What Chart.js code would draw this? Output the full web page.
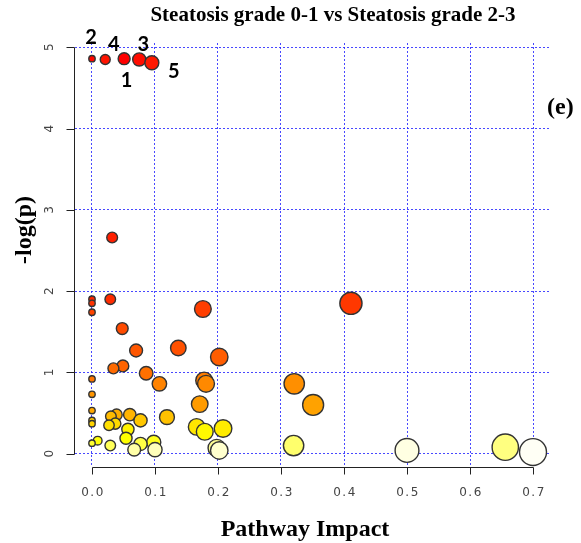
<!DOCTYPE html>
<html><head><meta charset="utf-8">
<script src="https://cdn.jsdelivr.net/npm/chart.js@4.4.0/dist/chart.umd.min.js"></script>
<style>html,body{margin:0;padding:0;background:#fff;}#wrap{width:581px;height:543px;position:relative;}</style>
</head><body><div id="wrap"><canvas id="c" width="581" height="543"></canvas></div>
<script>
// ---- data ----
const chartTitle = 'Steatosis grade 0-1 vs Steatosis grade 2-3';
const panelTag = '(e)';
const xAxisTitle = 'Pathway Impact';
const yAxisTitle = '-log(p)';
const xTickValues = [0, 0.1, 0.2, 0.3, 0.4, 0.5, 0.6, 0.7];
const xTickLabels = ['0.0', '0.1', '0.2', '0.3', '0.4', '0.5', '0.6', '0.7'];
const yTickValues = [0, 1, 2, 3, 4, 5];
const yTickLabels = ['0', '1', '2', '3', '4', '5'];
// pathways, ordered by -log(p) descending
const impact = [0.051, 0.000, 0.075, 0.021, 0.095, 0.032, 0.000, 0.029, 0.000, 0.411,
                0.176, 0.000, 0.048, 0.137, 0.070, 0.202, 0.049, 0.034, 0.086, 0.000,
                0.178, 0.107, 0.181, 0.321, 0.000, 0.171, 0.351, 0.000, 0.039, 0.060,
                0.030, 0.119, 0.077, 0.000, 0.000, 0.037, 0.027, 0.166, 0.208, 0.057,
                0.179, 0.054, 0.009, 0.098, 0.000, 0.077, 0.029, 0.320, 0.656, 0.198,
                0.067, 0.100, 0.202, 0.500, 0.700];
const negLogP = [4.86, 4.86, 4.85, 4.85, 4.81, 2.66, 1.90, 1.90, 1.85, 1.85,
                 1.78, 1.74, 1.54, 1.30, 1.27, 1.19, 1.08, 1.05, 0.99, 0.92,
                 0.90, 0.86, 0.86, 0.86, 0.73, 0.61, 0.60, 0.53, 0.48, 0.48,
                 0.46, 0.45, 0.41, 0.41, 0.37, 0.37, 0.35, 0.33, 0.31, 0.30,
                 0.27, 0.19, 0.16, 0.14, 0.13, 0.12, 0.10, 0.10, 0.08, 0.07,
                 0.05, 0.05, 0.04, 0.04, 0.02];
const topLabels = ['1', '2', '3', '4', '5']; // labels of the first five pathways

// ---- styles ----
function hsvToRgb(h, s, v) {
  const f = n => { const k = (n + h / 60) % 6; return v - v * s * Math.max(0, Math.min(k, 4 - k, 1)); };
  return 'rgb(' + Math.round(f(5) * 255) + ',' + Math.round(f(3) * 255) + ',' + Math.round(f(1) * 255) + ')';
}
function heatColors(n) { // like R heat.colors(n)
  const j = Math.floor(n / 4), i = n - j, out = [];
  for (let k = 0; k < i; k++) out.push(hsvToRgb(i > 1 ? 60 * k / (i - 1) : 0, 1, 1));
  for (let k = 0; k < j; k++) {
    const s0 = 1 - 1 / (2 * j), s1 = 1 / (2 * j);
    out.push(hsvToRgb(60, j > 1 ? s0 + (s1 - s0) * k / (j - 1) : s0, 1));
  }
  return out;
}
const rankOrder = negLogP.map((v, i) => i).sort((a, b) => negLogP[b] - negLogP[a] || a - b);
const pal = heatColors(negLogP.length);
const pointColors = new Array(negLogP.length);
rankOrder.forEach((idx, rank) => { pointColors[idx] = pal[rank]; });
const radiusFor = imp => 3.2 + 12.3 * Math.sqrt(imp);

const points = impact.map((x, i) => ({ x: x, y: negLogP[i], r: radiusFor(x) }));

const labelOffsets = [[2.5, 22], [-1, -21], [4, -15], [8.5, -14.5], [22, 9]];

const rStyle = {
  id: 'rStyle',
  afterDraw(chart) {
    const { ctx, chartArea: a, scales: { x, y } } = chart;
    ctx.save();
    ctx.strokeStyle = '#222';
    ctx.lineWidth = 1;
    // x axis
    const xb = Math.round(a.bottom) + 0.5;
    ctx.beginPath();
    ctx.moveTo(Math.round(x.getPixelForValue(xTickValues[0])) + 0.5, xb);
    ctx.lineTo(Math.round(x.getPixelForValue(xTickValues[xTickValues.length - 1])) + 0.5, xb);
    xTickValues.forEach(v => { const px = Math.round(x.getPixelForValue(v)) + 0.5; ctx.moveTo(px, xb); ctx.lineTo(px, xb + 7); });
    // y axis
    const yl = Math.round(a.left) - 0.5;
    ctx.moveTo(yl, Math.round(y.getPixelForValue(yTickValues[0])) + 0.5);
    ctx.lineTo(yl, Math.round(y.getPixelForValue(yTickValues[yTickValues.length - 1])) + 0.5);
    yTickValues.forEach(v => { const py = Math.round(y.getPixelForValue(v)) + 0.5; ctx.moveTo(yl, py); ctx.lineTo(yl - 8, py); });
    ctx.stroke();

    // tick labels
    ctx.fillStyle = '#444';
    ctx.font = '12px "DejaVu Sans"';
    ctx.letterSpacing = '1.5px';
    ctx.textAlign = 'center';
    ctx.textBaseline = 'middle';
    xTickValues.forEach((v, i) => ctx.fillText(xTickLabels[i], x.getPixelForValue(v) + 1, a.bottom + 26));
    yTickValues.forEach((v, i) => {
      ctx.save();
      ctx.translate(a.left - 25, y.getPixelForValue(v));
      ctx.rotate(-Math.PI / 2);
      ctx.fillText(yTickLabels[i], 0.75, 0);
      ctx.restore();
    });
    ctx.letterSpacing = '0px';

    // titles
    ctx.fillStyle = '#000';
    ctx.textBaseline = 'alphabetic';
    ctx.font = 'bold 21px "Liberation Serif"';
    ctx.textAlign = 'center';
    ctx.fillText(chartTitle, 333, 21);
    ctx.font = 'bold 24px "Liberation Serif"';
    ctx.fillText(xAxisTitle, 305, 536);
    ctx.save();
    ctx.translate(31, 230);
    ctx.rotate(-Math.PI / 2);
    ctx.fillText(yAxisTitle, 0, 0);
    ctx.restore();
    ctx.textAlign = 'left';
    ctx.font = 'bold 24px "Liberation Serif"';
    ctx.fillText(panelTag, 547, 114);

    // point labels
    ctx.font = 'bold 20px Lato';
    ctx.textAlign = 'center';
    ctx.textBaseline = 'middle';
    topLabels.forEach((t, i) => {
      const px = x.getPixelForValue(impact[i]), py = y.getPixelForValue(negLogP[i]);
      ctx.fillText(t, px + labelOffsets[i][0], py + labelOffsets[i][1]);
    });
    ctx.restore();
  }
};

new Chart(document.getElementById('c'), {
  type: 'bubble',
  data: {
    datasets: [{
      data: points,
      backgroundColor: pointColors,
      borderColor: '#333',
      borderWidth: 1.4,
      clip: false
    }]
  },
  options: {
    responsive: false,
    devicePixelRatio: 1,
    animation: false,
    events: [],
    layout: { padding: { left: 75, right: 31, top: 43, bottom: 76 } },
    plugins: { legend: { display: false }, tooltip: { enabled: false }, title: { display: false } },
    scales: {
      x: {
        type: 'linear', min: -0.02698, max: 0.72698,
        afterBuildTicks: s => { s.ticks = xTickValues.map(v => ({ value: v })); },
        afterFit: s => { s.height = 0; },
        ticks: { display: false },
        grid: { color: 'rgba(40,40,255,0.85)', lineWidth: 1, drawTicks: false },
        border: { display: false, dash: [2, 2] }
      },
      y: {
        type: 'linear', min: -0.1636, max: 5.0529,
        afterBuildTicks: s => { s.ticks = yTickValues.map(v => ({ value: v })); },
        afterFit: s => { s.width = 0; },
        ticks: { display: false },
        grid: { color: 'rgba(40,40,255,0.85)', lineWidth: 1, drawTicks: false },
        border: { display: false, dash: [2, 2] }
      }
    }
  },
  plugins: [rStyle]
});
</script>
</body></html>
